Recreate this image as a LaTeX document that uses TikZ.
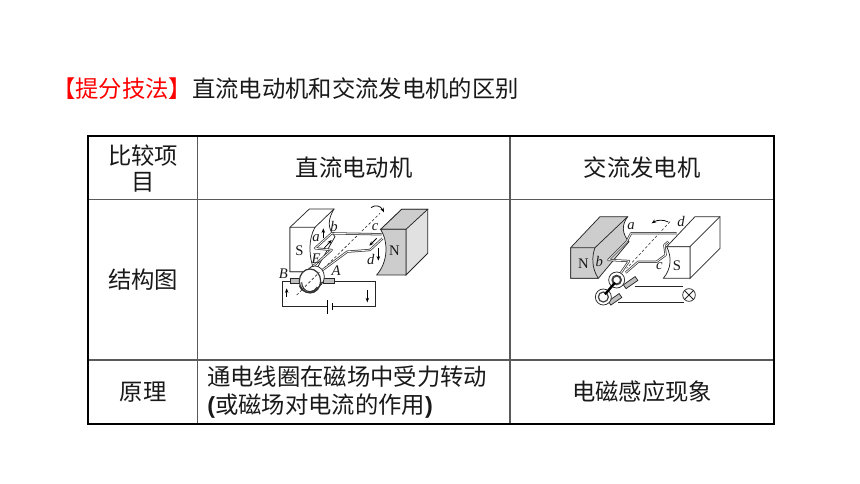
\documentclass[tikz,border=0pt]{standalone}
\usepackage{fontspec}
\setmainfont{Noto Sans CJK SC}
\newfontfamily\latinbold{Liberation Sans Bold}
\newfontfamily\figfont{Liberation Serif}
\usetikzlibrary{arrows.meta}
\definecolor{titlered}{RGB}{255,0,0}
\definecolor{txt}{RGB}{25,25,25}
\definecolor{rule}{RGB}{90,90,90}
\definecolor{magnetgray}{RGB}{205,205,205}
\definecolor{magnetside}{RGB}{225,225,225}
\tikzset{
  cjk/.style={inner sep=0pt,text=txt,font=\fontsize{17.5pt}{21.8pt}\selectfont},
  outerrule/.style={line width=1.5pt,black},
  innerrule/.style={line width=1.1pt,rule},
  fig/.style={line width=0.55pt,draw=black!85},
  figlab/.style={inner sep=0pt,font=\figfont\fontsize{11pt}{12pt}\selectfont,text=black!90},
  figit/.style={inner sep=0pt,font=\figfont\itshape\fontsize{11pt}{12pt}\selectfont,text=black!90},
  coiloutline/.style={line width=1.7pt,black!75,line join=round},
  coilinner/.style={line width=0.55pt,white,line join=round},
  axisline/.style={line width=0.45pt,black!85,dash pattern=on 2pt off 1.6pt},
  tip/.style={line width=0.55pt,black,-{Stealth[length=3.4pt,width=2.6pt]}}
}
\begin{document}
\begin{tikzpicture}[x=0.75pt,y=-0.75pt]
\useasboundingbox (0,0) rectangle (860,484);
\fill[white] (0,0) rectangle (860,484);

\node[cjk,anchor=west] (title) at (52,89) {\textcolor{titlered}{【提分技法】}直流电动机和交流发电机的区别};

% table
\draw[innerrule] (88,199.5) -- (774,199.5) (88,360) -- (774,360) (197.5,136) -- (197.5,424) (510,136) -- (510,424);
\draw[outerrule] (88,136) rectangle (774,424);

\node[cjk] (h1a) at (143,156) {比较项};
\node[cjk] (h1b) at (143,182) {目};
\node[cjk] (h2) at (354,168) {直流电动机};
\node[cjk] (h3) at (642,168) {交流发电机};
\node[cjk] (r1) at (143,280) {结构图};
\node[cjk] (r2) at (143,392) {原理};
\node[cjk,anchor=west] (p1) at (207,377) {通电线圈在磁场中受力转动};
\node[cjk,anchor=west] (p2) at (207,406) {{\latinbold (}或磁场对电流的作用{\latinbold )}};
\node[cjk] (p3) at (642,392) {电磁感应现象};

% motor figure
\begin{scope}[xshift=195pt,yshift=-146.25pt,x=0.25pt,y=-0.25pt]
  % S magnet
  \draw[fig,fill=white] (90,97) -- (148,42) -- (222,42) .. controls (205,70) and (200,100) .. (225,125) -- (165,230) -- (90,230) -- cycle;
  \draw[fig,fill=white] (165,97) .. controls (145,130) and (145,190) .. (165,230) -- (90,230) -- (90,97) -- cycle;
  \draw[fig] (165,97) -- (222,42);
  % N magnet
  \draw[fig,fill=magnetside] (425,43) -- (503,43) -- (503,175) -- (438,240) -- (438,103) -- (362,103) -- cycle;
  \draw[fig,fill=magnetgray] (362,103) -- (425,43) -- (503,43) -- (438,103) -- cycle;
  \draw[fig,fill=magnetgray] (362,103) -- (438,103) -- (438,240) -- (350,240) .. controls (385,200) and (385,140) .. (362,103) -- cycle;
  % axis
  \draw[axisline] (110,300) -- (360,55);
  % coil
  \foreach \sty in {coiloutline,coilinner}{
    \draw[\sty] (150,222) -- (215,165) -- (165,160) -- (215,115) -- (365,118);
    \draw[\sty] (178,232) -- (262,170) -- (330,165) -- (368,130);
  }
  % brushes and commutator
  \draw[fig,fill=black!25] (90,250) rectangle (118,265);
  \draw[fig,fill=black!25] (190,250) rectangle (222,265);
  \draw[fig,fill=white] (165,245) ellipse (28 and 32);
  \draw[line width=0.9pt,black!80,fill=white] (150,258) ellipse (32 and 36);
  \draw[line width=0.8pt,black!80] (125,262) arc (180:30:25 and 28);
  \draw[line width=0.8pt,black!80] (118,272) .. controls (128,300) and (168,300) .. (185,262);
  \draw[axisline] (125,285) -- (178,232);
  % circuit
  \draw[fig] (90,258) -- (68,258) -- (68,335) -- (203,335);
  \draw[fig] (217,335) -- (345,335) -- (345,258) -- (222,258);
  \draw[line width=0.55pt,black] (203,315) -- (203,358);
  \draw[line width=1.1pt,black] (217,325) -- (217,345);
  \draw[tip] (80,306) -- (80,280);
  \draw[tip] (322,285) -- (322,322);
  % force arrows
  \draw[tip] (190,130) -- (190,100);
  \draw[tip] (355,160) -- (355,197);
  \draw[tip] (350,130) -- (328,152);
  \draw[tip] (192,160) -- (215,135);
  \draw[line width=0.55pt,black,-{Stealth[length=3.4pt,width=2.6pt]}] (333,38) .. controls (345,28) and (362,32) .. (372,52);
  % labels
  \node[figlab] (mS) at (118,167) {S};
  \node[figlab] (mN) at (403,167) {N};
  \node[figit] (ma) at (168,130) {a};
  \node[figit] (mb) at (222,95) {b};
  \node[figit] (mc) at (345,97) {c};
  \node[figit] (md) at (332,192) {d};
  \node[figit] (mE) at (168,190) {E};
  \node[figit] (mA) at (228,226) {A};
  \node[figit] (mB) at (70,236) {B};
\end{scope}

% generator figure
\begin{scope}[xshift=416.25pt,yshift=-150pt,x=0.25pt,y=-0.25pt]
  % N magnet
  \draw[fig,fill=magnetgray] (47,143) -- (135,50) -- (218,50) .. controls (200,75) and (200,100) .. (222,125) -- (130,235) -- (47,235) -- cycle;
  \draw[fig,fill=magnetgray] (47,143) -- (120,143) .. controls (110,170) and (110,205) .. (130,235) -- (47,235) -- cycle;
  \draw[fig] (120,143) -- (218,50);
  % S magnet
  \draw[fig,fill=white] (420,50) -- (495,50) -- (495,145) -- (405,235) -- (405,140) -- (335,140) -- cycle;
  \draw[fig,fill=white] (335,140) -- (405,140) -- (405,235) -- (325,235) .. controls (350,205) and (350,170) .. (335,140) -- cycle;
  \draw[fig] (405,140) -- (495,50);
  % axis
  \draw[axisline] (345,65) -- (215,205);
  % coil
  \foreach \sty in {coiloutline,coilinner}{
    \draw[\sty] (198,218) -- (222,183) -- (160,180) -- (215,125) -- (228,100) -- (365,100);
    \draw[\sty] (212,218) -- (250,185) -- (305,185) -- (332,165) -- (328,135) -- (340,125);
  }
  % rings and brushes
  \draw[fig,fill=black!25,rotate around={35:(228,247)}] (205,240) rectangle (248,254);
  \draw[fig,fill=black!25,rotate around={35:(180,298)}] (160,291) rectangle (200,305);
  \draw[fig,fill=white] (185,240) circle (24);
  \draw[line width=1.4pt,black!75] (185,240) circle (13);
  \draw[fig,fill=white] (145,291) circle (24);
  \draw[line width=0.9pt,black!75] (145,291) circle (15);
  \draw[line width=1.8pt,black] (180,248) -- (150,283);
  \draw[fig] (240,258) -- (385,258);
  \draw[fig] (190,308) -- (387,308);
  \node[draw=black!85,line width=0.55pt,circle,minimum size=9.5pt,inner sep=0pt,fill=white] (lamp) at (402,285) {};
  \draw[fig] (lamp.north west) -- (lamp.south east) (lamp.north east) -- (lamp.south west);
  \draw[line width=0.55pt,black,-{Stealth[length=3.4pt,width=2.6pt]}] (340,66) .. controls (325,58) and (305,60) .. (290,70);
  % labels
  \node[figlab] (gN) at (85,191) {N};
  \node[figlab] (gS) at (366,198) {S};
  \node[figit] (ga) at (228,78) {a};
  \node[figit] (gd) at (378,64) {d};
  \node[figit] (gb) at (133,185) {b};
  \node[figit] (gc) at (313,198) {c};
\end{scope}
\end{tikzpicture}
\end{document}
